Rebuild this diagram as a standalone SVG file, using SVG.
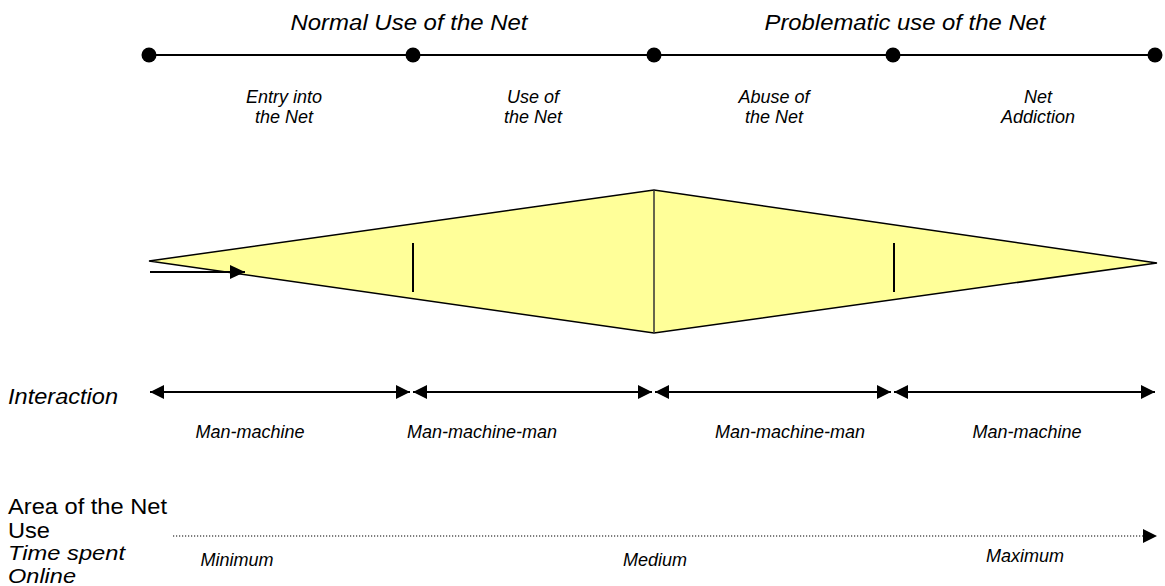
<svg xmlns="http://www.w3.org/2000/svg" width="1165" height="586" viewBox="0 0 1165 586">
<defs>
<style>
text{font-family:"Liberation Sans",Arial,sans-serif;fill:#000}
.t{font-size:22px;font-style:italic}
.l{font-size:22px}
.tb{font-size:21px;font-style:italic}
.s{font-size:18px;font-style:italic;text-anchor:middle}
.h{font-size:22px;font-style:italic;text-anchor:middle}
.ln{stroke:#000;stroke-width:2;fill:none}
.dot{fill:#000}
</style>
<marker id="ah" markerUnits="userSpaceOnUse" viewBox="0 0 14 14" markerWidth="14" markerHeight="14" refX="14" refY="7" orient="auto-start-reverse">
<path d="M0,0 L14,7 L0,14 z" fill="#000"/>
</marker>
<marker id="ahs" markerUnits="userSpaceOnUse" viewBox="0 0 15 14" markerWidth="15" markerHeight="14" refX="15" refY="7" orient="auto">
<path d="M0,0 L15,7 L0,14 z" fill="#000"/>
</marker>
</defs>
<g id="timeline">
<line class="ln" x1="149" y1="55" x2="1155" y2="55"/>
<circle class="dot" cx="149" cy="55" r="7.5"/>
<circle class="dot" cx="413" cy="55" r="7.5"/>
<circle class="dot" cx="654" cy="55" r="7.5"/>
<circle class="dot" cx="893" cy="55" r="7.5"/>
<circle class="dot" cx="1155" cy="55" r="7.5"/>
</g>
<g id="titles">
<text class="h" x="409" y="30" textLength="237" lengthAdjust="spacingAndGlyphs">Normal Use of the Net</text>
<text class="h" x="905" y="30" textLength="281" lengthAdjust="spacingAndGlyphs">Problematic use of the Net</text>
</g>
<g id="phase-entry"><text class="s" x="284" y="103">Entry into</text><text class="s" x="284" y="123">the Net</text></g>
<g id="phase-use"><text class="s" x="533" y="103">Use of</text><text class="s" x="533" y="123">the Net</text></g>
<g id="phase-abuse"><text class="s" x="774" y="103">Abuse of</text><text class="s" x="774" y="123">the Net</text></g>
<g id="phase-addiction"><text class="s" x="1038" y="103">Net</text><text class="s" x="1038" y="123">Addiction</text></g>
<g id="diamond">
<polygon points="149,261 654,190 1157,263 654,333" fill="#FFFF99" stroke="#000" stroke-width="1.5" stroke-linejoin="miter"/>
<line x1="654" y1="190" x2="654" y2="333" stroke="#333" stroke-width="1.5"/>
<line class="ln" x1="413" y1="243" x2="413" y2="292"/>
<line class="ln" x1="894" y1="243" x2="894" y2="292"/>
</g>
<g id="labels">
<text class="t" x="8" y="404" textLength="110" lengthAdjust="spacingAndGlyphs">Interaction</text>
<text class="l" x="8" y="514" textLength="159" lengthAdjust="spacingAndGlyphs">Area of the Net</text>
<text class="l" x="8" y="538" textLength="42" lengthAdjust="spacingAndGlyphs">Use</text>
<text class="tb" x="8" y="560" textLength="117" lengthAdjust="spacingAndGlyphs">Time spent</text>
<text class="tb" x="8" y="583" textLength="68" lengthAdjust="spacingAndGlyphs">Online</text>
</g>
<g id="interaction-labels">
<text class="s" x="250" y="438">Man-machine</text>
<text class="s" x="482" y="438">Man-machine-man</text>
<text class="s" x="790" y="438">Man-machine-man</text>
<text class="s" x="1027" y="438">Man-machine</text>
</g>
<g id="time-labels">
<text class="s" x="237" y="566">Minimum</text>
<text class="s" x="655" y="566">Medium</text>
<text class="s" x="1025" y="562">Maximum</text>
</g>
<g id="connectors">
<line class="ln" x1="150" y1="272" x2="245" y2="272" marker-end="url(#ahs)"/>
<line class="ln" x1="150" y1="392" x2="410" y2="392" marker-start="url(#ah)" marker-end="url(#ah)"/>
<line class="ln" x1="413" y1="392" x2="652" y2="392" marker-start="url(#ah)" marker-end="url(#ah)"/>
<line class="ln" x1="655" y1="392" x2="891" y2="392" marker-start="url(#ah)" marker-end="url(#ah)"/>
<line class="ln" x1="894" y1="392" x2="1155" y2="392" marker-start="url(#ah)" marker-end="url(#ah)"/>
<line x1="173" y1="536" x2="1157" y2="536" stroke="#000" stroke-width="1.2" stroke-dasharray="1.2,1.8" marker-end="url(#ah)"/>
</g>
</svg>
